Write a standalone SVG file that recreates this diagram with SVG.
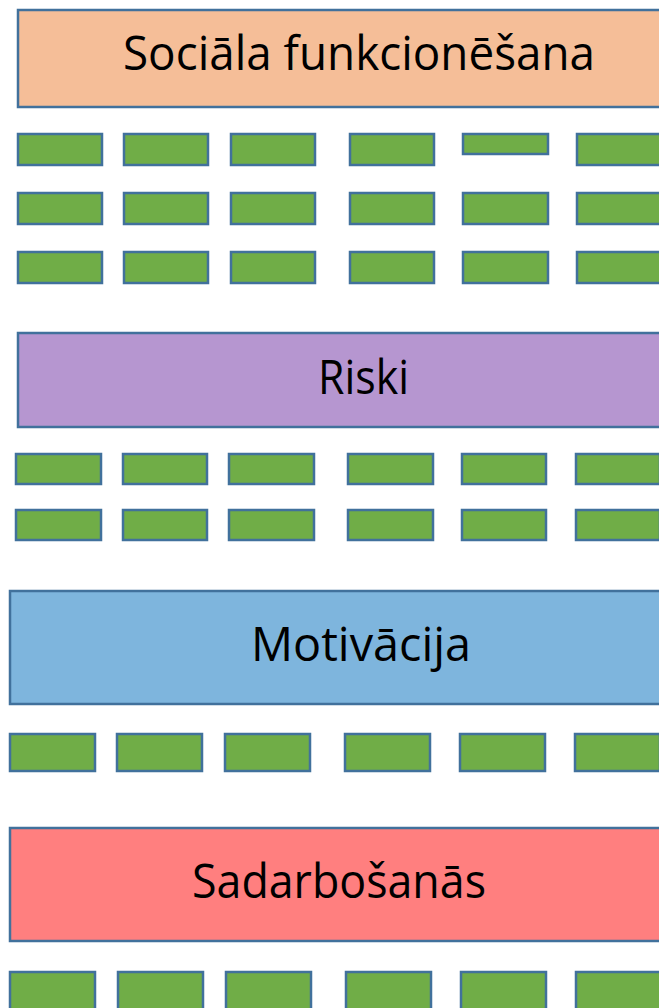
<svg xmlns="http://www.w3.org/2000/svg" width="659" height="1008" viewBox="0 0 659 1008">
<style>
.hdr{stroke:#41719C;stroke-width:2.5}
.g{fill:#70AD47;stroke:#41719C;stroke-width:2.5}
.t{font-family:"Open Sans","Noto Sans","Liberation Sans",sans-serif;font-size:47px;fill:#000}
</style>
<rect width="659" height="1008" fill="#FFFFFF"/>
<g id="social">
<rect class="hdr" x="18" y="10" width="700" height="97" fill="#F5BE98"/>
<text class="t" x="123" y="70" textLength="472" lengthAdjust="spacingAndGlyphs">Sociāla funkcionēšana</text>
</g>
<g id="social-items">
<rect class="g" x="18" y="134" width="84" height="31"/>
<rect class="g" x="124" y="134" width="84" height="31"/>
<rect class="g" x="231" y="134" width="84" height="31"/>
<rect class="g" x="350" y="134" width="84" height="31"/>
<rect class="g" x="463" y="134" width="85" height="20"/>
<rect class="g" x="577" y="134" width="84" height="31"/>
<rect class="g" x="18" y="193" width="84" height="31"/>
<rect class="g" x="124" y="193" width="84" height="31"/>
<rect class="g" x="231" y="193" width="84" height="31"/>
<rect class="g" x="350" y="193" width="84" height="31"/>
<rect class="g" x="463" y="193" width="85" height="31"/>
<rect class="g" x="577" y="193" width="84" height="31"/>
<rect class="g" x="18" y="252" width="84" height="31"/>
<rect class="g" x="124" y="252" width="84" height="31"/>
<rect class="g" x="231" y="252" width="84" height="31"/>
<rect class="g" x="350" y="252" width="84" height="31"/>
<rect class="g" x="463" y="252" width="85" height="31"/>
<rect class="g" x="577" y="252" width="84" height="31"/>
</g>
<g id="riski">
<rect class="hdr" x="18" y="333" width="700" height="94" fill="#B696D0"/>
<text class="t" x="318" y="394" textLength="91" lengthAdjust="spacingAndGlyphs">Riski</text>
</g>
<g id="riski-items">
<rect class="g" x="16" y="454" width="85" height="30"/>
<rect class="g" x="123" y="454" width="84" height="30"/>
<rect class="g" x="229" y="454" width="85" height="30"/>
<rect class="g" x="348" y="454" width="85" height="30"/>
<rect class="g" x="462" y="454" width="84" height="30"/>
<rect class="g" x="576" y="454" width="84" height="30"/>
<rect class="g" x="16" y="510" width="85" height="30"/>
<rect class="g" x="123" y="510" width="84" height="30"/>
<rect class="g" x="229" y="510" width="85" height="30"/>
<rect class="g" x="348" y="510" width="85" height="30"/>
<rect class="g" x="462" y="510" width="84" height="30"/>
<rect class="g" x="576" y="510" width="84" height="30"/>
</g>
<g id="motivacija">
<rect class="hdr" x="10" y="591" width="700" height="113" fill="#7EB5DD"/>
<text class="t" x="251" y="661" textLength="220" lengthAdjust="spacingAndGlyphs">Motivācija</text>
</g>
<g id="motivacija-items">
<rect class="g" x="10" y="734" width="85" height="37"/>
<rect class="g" x="117" y="734" width="85" height="37"/>
<rect class="g" x="225" y="734" width="85" height="37"/>
<rect class="g" x="345" y="734" width="85" height="37"/>
<rect class="g" x="460" y="734" width="85" height="37"/>
<rect class="g" x="575" y="734" width="85" height="37"/>
</g>
<g id="sadarbosanas">
<rect class="hdr" x="10" y="828" width="700" height="113" fill="#FF7F7F"/>
<text class="t" x="192" y="898" textLength="294" lengthAdjust="spacingAndGlyphs">Sadarbošanās</text>
</g>
<g id="sadarbosanas-items">
<rect class="g" x="10" y="972" width="85" height="50"/>
<rect class="g" x="118" y="972" width="85" height="50"/>
<rect class="g" x="226" y="972" width="85" height="50"/>
<rect class="g" x="346" y="972" width="85" height="50"/>
<rect class="g" x="461" y="972" width="85" height="50"/>
<rect class="g" x="576" y="972" width="85" height="50"/>
</g>
<g id="connectors"></g>
</svg>
